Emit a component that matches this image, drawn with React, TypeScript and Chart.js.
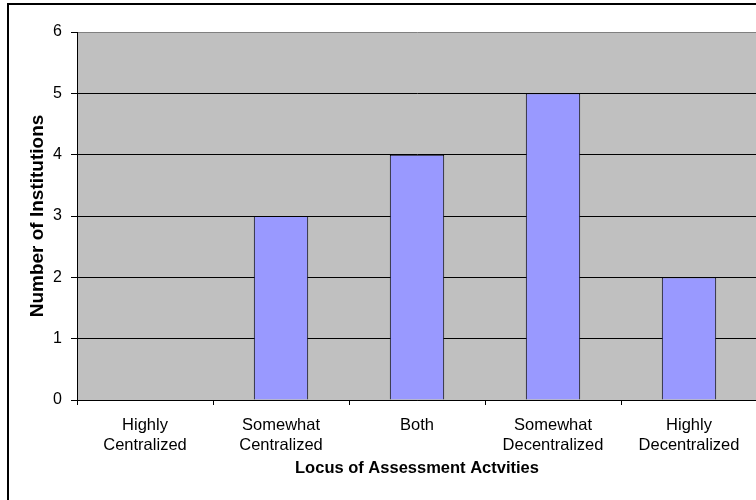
import { useEffect, useRef } from "react";
import { Chart, registerables } from "chart.js";

Chart.register(...registerables);

// Categories on the x axis (multi-line labels)
const categories: string[][] = [
  ["Highly", "Centralized"],
  ["Somewhat", "Centralized"],
  ["Both"],
  ["Somewhat", "Decentralized"],
  ["Highly", "Decentralized"],
];

// Number of institutions per category
const institutionCounts: number[] = [0, 3, 4, 5, 2];

// Value axis range
const yMin = 0;
const yMax = 6;
const yStep = 1;

const xTitle = "Locus of Assessment Actvities";
const yTitle = "Number of Institutions";

const FONT = "'Liberation Sans', Arial, Helvetica, sans-serif";

// Paints the white page, the chart frame and the grey plot area
const framePlugin = {
  id: "frame",
  beforeDraw(chart: any) {
    const { ctx, chartArea: a } = chart;
    ctx.save();
    ctx.fillStyle = "#ffffff";
    ctx.fillRect(0, 0, chart.width, chart.height);
    ctx.strokeStyle = "#000000";
    ctx.lineWidth = 2;
    ctx.strokeRect(8, 4, chart.width, chart.height);
    ctx.fillStyle = "#C0C0C0";
    ctx.fillRect(a.left, a.top, a.right - a.left, a.bottom - a.top);
    ctx.restore();
  },
};

export default function App() {
  const canvasRef = useRef<HTMLCanvasElement | null>(null);

  useEffect(() => {
    const canvas = canvasRef.current;
    if (!canvas) return;

    const chart = new Chart(canvas, {
      type: "bar",
      data: {
        labels: categories,
        datasets: [
          {
            data: institutionCounts,
            backgroundColor: "#9999FF",
            borderColor: "#000000",
            borderWidth: 1,
            barPercentage: 0.4,
            categoryPercentage: 1,
          },
        ],
      },
      options: {
        responsive: false,
        animation: false,
        devicePixelRatio: 1,
        layout: { padding: { left: 0, right: 13, top: 32, bottom: 0 } },
        plugins: {
          legend: { display: false },
          tooltip: { enabled: false },
        },
        scales: {
          x: {
            grid: {
              offset: true,
              drawOnChartArea: false,
              drawTicks: true,
              tickLength: 5,
              tickColor: "#000000",
            },
            border: { display: true, color: "#000000", width: 1 },
            ticks: {
              color: "#000000",
              font: { family: FONT, size: 16.5 },
              padding: 11,
              maxRotation: 0,
              autoSkip: false,
            },
            title: {
              display: true,
              text: xTitle,
              color: "#000000",
              font: { family: FONT, size: 16.5, weight: "bold" },
              padding: { top: 0, bottom: 22 },
            },
            afterFit: (s: any) => {
              s.height = 100;
            },
          },
          y: {
            min: yMin,
            max: yMax,
            ticks: {
              stepSize: yStep,
              color: "#000000",
              font: { family: FONT, size: 16 },
              padding: 9,
            },
            grid: {
              color: (c: any) => (c.tick && c.tick.value === yMax ? "#808080" : "#000000"),
              tickColor: "#000000",
              tickLength: 6,
              lineWidth: 1,
            },
            border: { display: true, color: "#000000", width: 1 },
            title: {
              display: true,
              text: yTitle,
              color: "#000000",
              font: { family: FONT, size: 19, weight: "bold" },
              padding: { top: 26, bottom: 0 },
            },
            afterFit: (s: any) => {
              s.width = 77;
            },
          },
        },
      },
      plugins: [framePlugin],
    });

    return () => chart.destroy();
  }, []);

  return (
    <div
      style={{
        position: "fixed",
        left: 0,
        top: 0,
        width: 756,
        height: 500,
        overflow: "hidden",
        background: "#ffffff",
      }}
    >
      <canvas ref={canvasRef} width={770} height={500} style={{ display: "block" }} />
    </div>
  );
}
